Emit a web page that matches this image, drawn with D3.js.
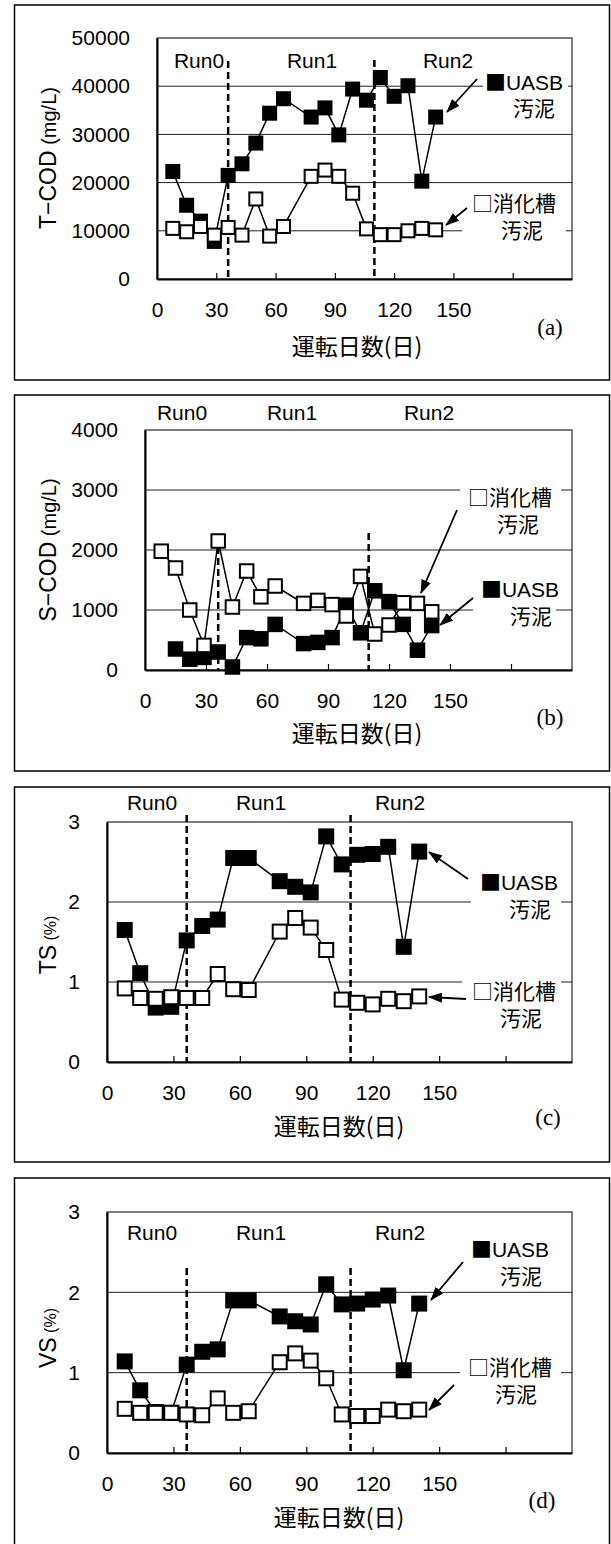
<!DOCTYPE html>
<html>
<head>
<meta charset="utf-8">
<script src="https://cdn.jsdelivr.net/npm/d3@7"></script>
<style>
  body { margin: 0; background: #fff; }
  svg { display: block; }
</style>
</head>
<body>
<svg id="chart" width="611" height="1544"></svg>
<script>
// sampling days (weekly, day 71 missing)
const days = [8, 15, 22, 29, 36, 43, 50, 57, 64, 78, 85, 92, 99, 106, 113, 120, 127, 134, 141];

const tcodUasb   = [22300, 15300, 12000, 7800, 21500, 23900, 28200, 34400, 37400, 33600, 35500, 29900, 39400, 37100, 41800, 37900, 40100, 20300, 33600];
const tcodDigest = [10500, 9800, 10900, 9100, 10700, 9100, 16600, 8900, 10900, 21300, 22600, 21300, 17800, 10400, 9200, 9200, 10000, 10500, 10200];

const scodUasb   = [null, 350, 180, 210, 300, 50, 540, 520, 760, 440, 460, 540, 1080, 620, 1320, 1140, 760, 330, 740];
const scodDigest = [1980, 1700, 1000, 410, 2150, 1050, 1650, 1220, 1400, 1110, 1160, 1090, 900, 1560, 600, 750, 1120, 1110, 970];

const tsUasb   = [1.65, 1.11, 0.68, 0.69, 1.52, 1.70, 1.78, 2.55, 2.55, 2.26, 2.19, 2.12, 2.82, 2.47, 2.59, 2.60, 2.69, 1.44, 2.63];
const tsDigest = [0.92, 0.80, 0.79, 0.81, 0.80, 0.80, 1.10, 0.91, 0.90, 1.63, 1.80, 1.68, 1.40, 0.78, 0.74, 0.72, 0.79, 0.76, 0.82];

const vsUasb   = [1.14, 0.78, 0.51, 0.50, 1.10, 1.26, 1.29, 1.90, 1.90, 1.70, 1.64, 1.60, 2.10, 1.85, 1.86, 1.91, 1.96, 1.03, 1.86];
const vsDigest = [0.55, 0.50, 0.50, 0.50, 0.48, 0.47, 0.68, 0.50, 0.52, 1.13, 1.24, 1.15, 0.93, 0.48, 0.46, 0.46, 0.54, 0.52, 0.54];

const xTicks = [0, 30, 60, 90, 120, 150, 180];
const xMax = 210;
const tcodTicks = [0, 10000, 20000, 30000, 40000, 50000];
const scodTicks = [0, 1000, 2000, 3000, 4000];
const pctTicks = [0, 1, 2, 3];
const runLabels = ['Run0', 'Run1', 'Run2'];
const runBreaks = [36, 110];
const xTitle = '運転日数(日)';

const LATIN = "'Liberation Sans', Arial, sans-serif";
const JP = "'Noto Sans CJK JP', sans-serif";

const svg = d3.select('#chart');

const defs = svg.append('defs');
defs.append('marker')
  .attr('id', 'arrow')
  .attr('markerUnits', 'userSpaceOnUse')
  .attr('markerWidth', 14).attr('markerHeight', 10)
  .attr('refX', 13).attr('refY', 5)
  .attr('orient', 'auto')
  .append('path')
  .attr('d', 'M0,0 L14,5 L0,10 Z')
  .attr('fill', '#000');

// layout of each panel
const panels = [
  {
    tag: '(a)', uasb: tcodUasb, digest: tcodDigest, ticks: tcodTicks,
    yTitle: ['T−COD', ' (mg/L)'], ySizes: [23, 20],
    frame: [5, 380], plot: { l: 157, r: 572, t: 38, b: 279 },
    runY: 61, runX: [199, 312, 448], dashTop: [61, 60],
    titleY: 158, xTitleX: 357, xTitleY: 347, tagX: 550, tagY: 327, msize: 13,
    legends: [
      { lines: [['■', 'UASB', 524, 82], ['', '汚泥', 534, 108]], arrow: [477, 79, 447, 112], box: [483, 568] },
      { lines: [['□', '消化槽', 514, 203], ['', '汚泥', 522, 230]], arrow: [467, 208, 446, 225], box: [462, 566] }
    ]
  },
  {
    tag: '(b)', uasb: scodUasb, digest: scodDigest, ticks: scodTicks,
    yTitle: ['S−COD', ' (mg/L)'], ySizes: [23, 20],
    frame: [395, 771], plot: { l: 145, r: 572, t: 430, b: 670 },
    runY: 413, runX: [182, 292, 429], dashTop: [547, 533],
    titleY: 550, xTitleX: 357, xTitleY: 734, tagX: 550, tagY: 717, msize: 13.5,
    legends: [
      { lines: [['□', '消化槽', 510, 497], ['', '汚泥', 518, 524]], arrow: [457, 510, 421, 593], box: [460, 561] },
      { lines: [['■', 'UASB', 520, 589], ['', '汚泥', 531, 616]], arrow: [473, 598, 440, 625], box: [473, 556] }
    ]
  },
  {
    tag: '(c)', uasb: tsUasb, digest: tsDigest, ticks: pctTicks,
    yTitle: ['TS', ' (%)'], ySizes: [23, 16],
    frame: [787, 1162], plot: { l: 107, r: 572, t: 822, b: 1062 },
    runY: 803, runX: [152, 261, 400], dashTop: [815, 815],
    titleY: 945, xTitleX: 339, xTitleY: 1127, tagX: 548, tagY: 1117, msize: 14,
    legends: [
      { lines: [['■', 'UASB', 519, 882], ['', '汚泥', 530, 909]], arrow: [468, 879, 429, 852], box: [471, 561] },
      { lines: [['□', '消化槽', 514, 991], ['', '汚泥', 521, 1018]], arrow: [466, 999, 429, 997], box: [462, 561] }
    ]
  },
  {
    tag: '(d)', uasb: vsUasb, digest: vsDigest, ticks: pctTicks,
    yTitle: ['VS', ' (%)'], ySizes: [23, 16],
    frame: [1178, 1553], plot: { l: 107, r: 572, t: 1212, b: 1453 },
    runY: 1233, runX: [152, 261, 400], dashTop: [1268, 1268],
    titleY: 1338, xTitleX: 339, xTitleY: 1518, tagX: 542, tagY: 1500, msize: 14,
    legends: [
      { lines: [['■', 'UASB', 510, 1249], ['', '汚泥', 521, 1276]], arrow: [463, 1262, 431, 1300], box: [460, 561] },
      { lines: [['□', '消化槽', 510, 1367], ['', '汚泥', 516, 1394]], arrow: [454, 1385, 429, 1410], box: [460, 561] }
    ]
  }
];

function drawPanel(p) {
  const g = svg.append('g');
  const x = d3.scaleLinear().domain([0, xMax]).range([p.plot.l, p.plot.r]);
  const yMax = p.ticks[p.ticks.length - 1];
  const y = d3.scaleLinear().domain([0, yMax]).range([p.plot.b, p.plot.t]);

  // outer frame
  g.append('rect')
    .attr('x', 14.5).attr('y', p.frame[0])
    .attr('width', 595).attr('height', p.frame[1] - p.frame[0])
    .attr('fill', 'none').attr('stroke', '#000').attr('stroke-width', 1.5);

  // grid lines
  g.selectAll('.grid')
    .data(p.ticks.slice(1, -1))
    .enter()
    .append('line')
    .attr('x1', p.plot.l).attr('x2', p.plot.r)
    .attr('y1', d => y(d)).attr('y2', d => y(d))
    .attr('stroke', '#222').attr('stroke-width', 1);

  // plot border
  g.append('rect')
    .attr('x', p.plot.l).attr('y', p.plot.t)
    .attr('width', p.plot.r - p.plot.l).attr('height', p.plot.b - p.plot.t)
    .attr('fill', 'none').attr('stroke', '#000').attr('stroke-width', 1);

  // axes
  const xAxis = g.append('g')
    .attr('transform', `translate(0,${p.plot.b})`)
    .call(d3.axisBottom(x).tickValues(xTicks)
      .tickSizeInner(-6).tickSizeOuter(0).tickPadding(23)
      .tickFormat(d => d <= 150 ? String(d) : ''));
  xAxis.select('.domain').attr('stroke-width', 2.2);
  xAxis.selectAll('.tick line').attr('stroke-width', 1.2);
  xAxis.selectAll('text').attr('font-size', 21).attr('font-family', LATIN).attr('fill', '#000');

  const yAxis = g.append('g')
    .attr('transform', `translate(${p.plot.l},0)`)
    .call(d3.axisLeft(y).tickValues(p.ticks).tickSize(0).tickPadding(27)
      .tickFormat(d => String(d)));
  yAxis.select('.domain').attr('stroke-width', 2);
  yAxis.selectAll('text').attr('font-size', 21).attr('font-family', LATIN).attr('fill', '#000');

  // run separators
  g.selectAll('.run-break')
    .data(runBreaks)
    .enter()
    .append('line')
    .attr('x1', d => x(d)).attr('x2', d => x(d))
    .attr('y1', (d, i) => p.dashTop[i]).attr('y2', p.plot.b)
    .attr('stroke', '#000').attr('stroke-width', 2.5)
    .attr('stroke-dasharray', '7,4');

  g.selectAll('.run-label')
    .data(runLabels)
    .enter()
    .append('text')
    .attr('x', (d, i) => p.runX[i]).attr('y', p.runY)
    .attr('dy', '0.35em')
    .attr('text-anchor', 'middle')
    .attr('font-size', 21).attr('font-family', LATIN)
    .text(d => d);

  // series: UASB first, digester sludge drawn on top
  const line = d3.line()
    .defined(d => d[1] != null)
    .x(d => x(d[0])).y(d => y(d[1]));
  const s = p.msize;
  [[p.uasb, '#000'], [p.digest, '#fff']].forEach(([vals, fill]) => {
    const pts = days.map((d, i) => [d, vals[i]]);
    g.append('path')
      .datum(pts)
      .attr('d', line)
      .attr('fill', 'none').attr('stroke', '#000').attr('stroke-width', 1.5);
    g.selectAll(null)
      .data(pts.filter(d => d[1] != null))
      .enter()
      .append('rect')
      .attr('x', d => x(d[0]) - s / 2).attr('y', d => y(d[1]) - s / 2)
      .attr('width', s).attr('height', s)
      .attr('fill', fill).attr('stroke', '#000').attr('stroke-width', 2);
  });

  // legend labels in white boxes, with arrows
  p.legends.forEach(lg => {
    const top = lg.lines[0][3] - 14;
    const bottom = lg.lines[lg.lines.length - 1][3] + 14;
    g.append('rect')
      .attr('x', lg.box[0]).attr('y', top)
      .attr('width', lg.box[1] - lg.box[0]).attr('height', bottom - top)
      .attr('fill', '#fff');
    lg.lines.forEach(([sym, label, cx, cy]) => {
      const t = g.append('text')
        .attr('x', cx).attr('y', cy).attr('dy', '0.36em')
        .attr('text-anchor', 'middle')
        .attr('font-size', 21);
      if (sym) t.append('tspan').attr('font-family', JP).text(sym);
      t.append('tspan')
        .attr('font-family', label === 'UASB' ? LATIN : JP)
        .text(label);
    });
    const a = lg.arrow;
    g.append('line')
      .attr('x1', a[0]).attr('y1', a[1]).attr('x2', a[2]).attr('y2', a[3])
      .attr('stroke', '#000').attr('stroke-width', 1.8)
      .attr('marker-end', 'url(#arrow)');
  });

  // titles
  const yt = g.append('text')
    .attr('transform', `translate(50,${p.titleY}) rotate(-90)`)
    .attr('dy', '0.35em')
    .attr('text-anchor', 'middle')
    .attr('font-family', LATIN);
  yt.append('tspan').attr('font-size', p.ySizes[0]).text(p.yTitle[0]);
  yt.append('tspan').attr('font-size', p.ySizes[1]).text(p.yTitle[1]);

  g.append('text')
    .attr('x', p.xTitleX).attr('y', p.xTitleY).attr('dy', '0.36em')
    .attr('text-anchor', 'middle')
    .attr('font-size', 23).attr('font-family', JP)
    .text(xTitle);

  g.append('text')
    .attr('x', p.tagX).attr('y', p.tagY).attr('dy', '0.33em')
    .attr('text-anchor', 'middle')
    .attr('font-size', 23).attr('font-family', "'Liberation Serif', serif")
    .text(p.tag);
}

panels.forEach(drawPanel);
</script>
</body>
</html>
